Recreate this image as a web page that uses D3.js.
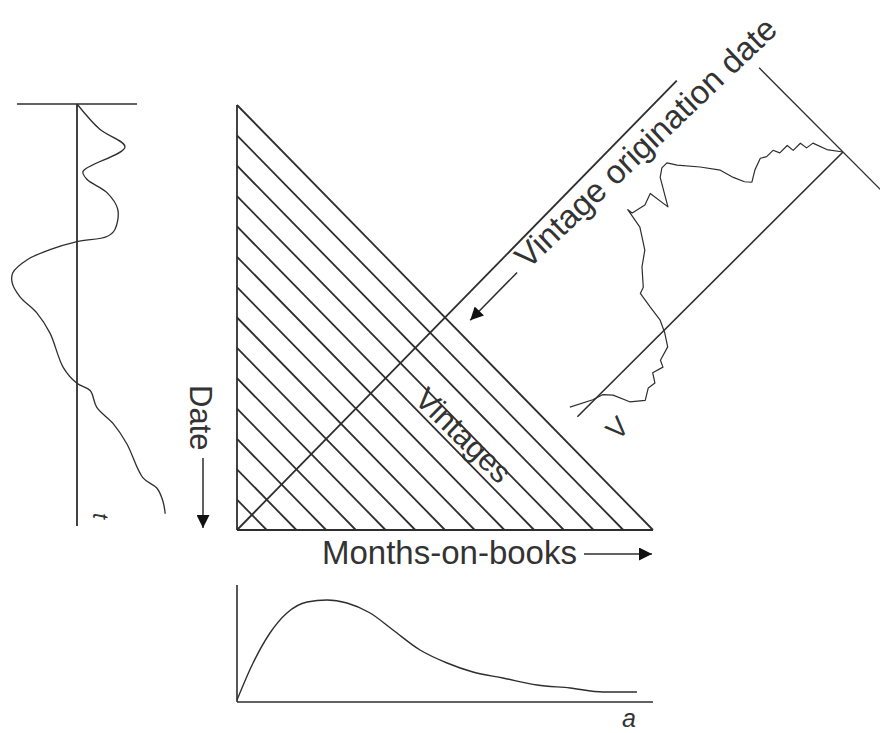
<!DOCTYPE html>
<html>
<head>
<meta charset="utf-8">
<script src="https://cdnjs.cloudflare.com/ajax/libs/d3/7.8.5/d3.min.js"></script>
<style>
  body { margin: 0; background: #fff; }
  svg text { font-family: "Liberation Sans", Arial, sans-serif; fill: #333; }
</style>
</head>
<body>
<svg id="chart" width="880" height="733"></svg>
<script>
// origination date (in periods) of each vintage line in the triangle
var vintages = [0, 1, 2, 3, 4, 5, 6, 7, 8, 9, 10, 11, 12, 13];
var monthsDomain = [0, 14];
var datesDomain = [0, 14];
var vintageAxisEnd = 14.8;   // how far the origination axis runs (months units)

// exogenous curve (left), date t vs value
var envT = [0, 6, 10.2, 16, 17.9, 21, 25, 29.8, 31.4, 32.6, 34.5, 36.9, 40, 42.4, 45.7, 49.5, 54.3, 62.4, 66.2, 67.9, 71.9, 75.7, 80.5, 88.6, 91, 94, 97.1];
var envV = [0, 0.38, 0.8, 0.1, 0.17, 0.5, 0.68, 0.63, 0.5, 0, -0.45, -0.83, -1.07, -1.08, -0.95, -0.67, -0.45, -0.23, 0, 0.22, 0.33, 0.6, 0.83, 1.1, 1.33, 1.43, 1.47];

// lifecycle curve (bottom), months-on-books a vs value
var lifeA = [0, 0.54, 1.11, 1.68, 2.36, 3.03, 3.7, 4.48, 5.25, 6.16, 7.07, 7.94, 8.95, 10.1, 11.21, 12.32, 13.46];
var lifeF = [0.02, 0.39, 0.69, 0.89, 1.0, 1.02, 0.99, 0.89, 0.72, 0.52, 0.39, 0.3, 0.24, 0.17, 0.14, 0.1, 0.1];

// vintage quality curve (right), position along V axis vs value
var vintU = [0, 2.6, 4.0, 6.1, 6.4, 9.1, 9.3, 12.1, 12.9, 15.3, 16.8, 20.0, 22.9, 24.2, 25.5, 26.6, 29.8, 33.8, 35.3, 37.2, 39.3, 43.4, 44.2, 47.4, 51.3, 51.5, 52.5, 55.9, 59.6, 63.2, 64.9, 65.6, 66.2, 67.7, 69.8, 73.7, 74.5, 77.5, 79.0, 81.2, 84.1, 87.3, 89.2, 91.1, 93.9, 99.6];
var vintW = [0, 0.12, 0.25, 0.26, 0.33, 0.33, 0.40, 0.40, 0.46, 0.46, 0.49, 0.45, 0.39, 0.44, 0.54, 0.67, 0.82, 0.98, 1.06, 1.06, 1.01, 0.77, 0.97, 0.93, 0.96, 1.01, 0.82, 0.64, 0.55, 0.41, 0.39, 0.24, 0.09, -0.02, -0.13, -0.17, -0.23, -0.20, -0.28, -0.27, -0.33, -0.24, -0.09, -0.02, 0.01, 0.11];

var ink = "#2e2e2e";

var svg = d3.select("#chart");

svg.append("defs").append("marker")
    .attr("id", "head")
    .attr("viewBox", "0 -5 10 10")
    .attr("refX", 10).attr("refY", 0)
    .attr("markerUnits", "userSpaceOnUse")
    .attr("markerWidth", 16).attr("markerHeight", 13)
    .attr("orient", "auto")
  .append("path")
    .attr("d", "M0,-5L10,0L0,5Z")
    .attr("fill", "#111");

// ---- main triangle (months-on-books x date)
var x = d3.scaleLinear().domain(monthsDomain).range([237, 653]);
var y = d3.scaleLinear().domain(datesDomain).range([105, 530]);

var tri = svg.append("g")
    .attr("stroke", ink)
    .attr("stroke-width", 1.8)
    .attr("fill", "none");

tri.append("line")
    .attr("x1", x(0)).attr("y1", y(datesDomain[0]))
    .attr("x2", x(0)).attr("y2", y(datesDomain[1]));
tri.append("line")
    .attr("x1", x(0)).attr("y1", y(datesDomain[1]))
    .attr("x2", x(monthsDomain[1])).attr("y2", y(datesDomain[1]));

// each vintage starts at month 0 on its date and ages until the last date
tri.selectAll(".vintage")
  .data(vintages)
  .enter().append("line")
    .attr("class", "vintage")
    .attr("x1", x(0))
    .attr("y1", function(v) { return y(v); })
    .attr("x2", function(v) { return x(datesDomain[1] - v); })
    .attr("y2", y(datesDomain[1]));

// origination date axis, perpendicular to the vintages
var ox = x(0), oy = y(datesDomain[1]);
var ex = x(vintageAxisEnd), ey = y(datesDomain[1] - vintageAxisEnd);
tri.append("line")
    .attr("x1", ox).attr("y1", oy)
    .attr("x2", ex).attr("y2", ey);

var len = Math.hypot(ex - ox, ey - oy);
var ux = (ex - ox) / len, uy = (ey - oy) / len;   // along the axis
var nx = -uy, ny = ux;                              // across it, down-right
var angle = Math.atan2(uy, ux) * 180 / Math.PI;

svg.append("line")
    .attr("x1", ox + ux * 380 + nx * 20).attr("y1", oy + uy * 380 + ny * 20)
    .attr("x2", ox + ux * 313 + nx * 20).attr("y2", oy + uy * 313 + ny * 20)
    .attr("stroke", ink).attr("stroke-width", 1.5)
    .attr("marker-end", "url(#head)");

// label sits a little flatter than the axis itself
svg.append("text")
    .attr("transform", "translate(528,270) rotate(-43.5)")
    .attr("font-size", 33)
    .text("Vintage origination date");

svg.append("text")
    .attr("transform", "translate(456,443) rotate(" + (90 + angle) + ")")
    .attr("text-anchor", "middle")
    .attr("font-size", 31)
    .text("Vintages");

// date label + arrow
svg.append("text")
    .attr("transform", "translate(190,385) rotate(90)")
    .attr("font-size", 31)
    .text("Date");
svg.append("line")
    .attr("x1", 203).attr("y1", 458)
    .attr("x2", 203).attr("y2", 528)
    .attr("stroke", ink).attr("stroke-width", 1.5)
    .attr("marker-end", "url(#head)");

// months-on-books label + arrow
svg.append("text")
    .attr("x", 322).attr("y", 564)
    .attr("font-size", 33)
    .text("Months-on-books");
svg.append("line")
    .attr("x1", 584).attr("y1", 554)
    .attr("x2", 652).attr("y2", 554)
    .attr("stroke", ink).attr("stroke-width", 1.5)
    .attr("marker-end", "url(#head)");

// ---- left panel: exogenous curve over date
var tL = d3.scaleLinear().domain([0, 100]).range([104, 526]);
var vL = d3.scaleLinear().domain([-1, 1]).range([17, 137]);

var left = svg.append("g").attr("fill", "none").attr("stroke", ink);
left.append("line")
    .attr("x1", vL(-1)).attr("y1", tL(0))
    .attr("x2", vL(1)).attr("y2", tL(0))
    .attr("stroke-width", 1.6);
left.append("line")
    .attr("x1", vL(0)).attr("y1", tL(0))
    .attr("x2", vL(0)).attr("y2", tL(100))
    .attr("stroke-width", 1.8);
left.append("path")
    .datum(envT.map(function(t, i) { return [envV[i], t]; }))
    .attr("stroke-width", 1.3)
    .attr("d", d3.line()
        .x(function(d) { return vL(d[0]); })
        .y(function(d) { return tL(d[1]); })
        .curve(d3.curveCatmullRom.alpha(0.5)));

svg.append("text")
    .attr("transform", "translate(93,513) rotate(90)")
    .attr("font-size", 22)
    .attr("font-style", "italic")
    .text("t");

// ---- bottom panel: lifecycle over months-on-books
var fB = d3.scaleLinear().domain([0, 1]).range([702, 602]);

var bottom = svg.append("g").attr("fill", "none").attr("stroke", ink);
bottom.append("line")
    .attr("x1", x(0)).attr("y1", fB(0))
    .attr("x2", x(0)).attr("y2", fB(1.17))
    .attr("stroke-width", 1.6);
bottom.append("line")
    .attr("x1", x(0)).attr("y1", fB(0))
    .attr("x2", x(monthsDomain[1])).attr("y2", fB(0))
    .attr("stroke-width", 1.6);
bottom.append("path")
    .datum(lifeA.map(function(a, i) { return [a, lifeF[i]]; }))
    .attr("stroke-width", 1.4)
    .attr("d", d3.line()
        .x(function(d) { return x(d[0]); })
        .y(function(d) { return fB(d[1]); })
        .curve(d3.curveMonotoneX));

svg.append("text")
    .attr("x", 622).attr("y", 727)
    .attr("font-size", 25)
    .attr("font-style", "italic")
    .text("a");

// ---- right panel: vintage curve drawn in a frame along the V axis
var uR = d3.scaleLinear().domain([0, 100]).range([0, 375]);
var wR = d3.scaleLinear().domain([0, 1]).range([0, 110]);

var right = svg.append("g")
    .attr("transform", "translate(843,152) rotate(135.1)")
    .attr("fill", "none").attr("stroke", ink);
right.append("line")
    .attr("x1", uR(0)).attr("y1", wR(0))
    .attr("x2", uR(100)).attr("y2", wR(0))
    .attr("stroke-width", 1.6);
right.append("line")
    .attr("x1", uR(0)).attr("y1", wR(1.08))
    .attr("x2", uR(0)).attr("y2", wR(-0.7))
    .attr("stroke-width", 1.4);
right.append("path")
    .datum(vintU.map(function(u, i) { return [u, vintW[i]]; }))
    .attr("stroke-width", 1.2)
    .attr("stroke-linejoin", "round")
    .attr("d", d3.line()
        .x(function(d) { return uR(d[0]); })
        .y(function(d) { return wR(d[1]); }));

svg.append("text")
    .attr("transform", "translate(624,435) rotate(-45)")
    .attr("text-anchor", "middle")
    .attr("font-size", 28)
    .text("V");
</script>
</body>
</html>
